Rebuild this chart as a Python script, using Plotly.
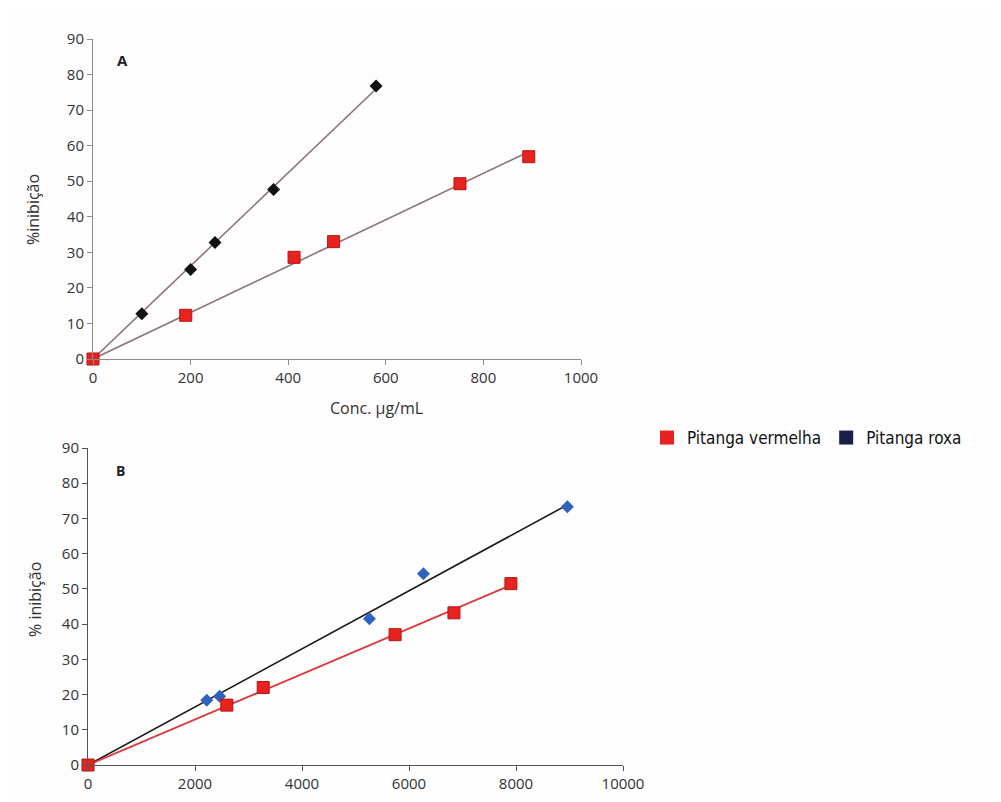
import numpy as np
import plotly.graph_objects as go

# Panel A data (Conc. µg/mL vs % inibição)
a_roxa_x = [0, 100, 200, 250, 370, 580]
a_roxa_y = [0, 12.7, 25.2, 32.8, 47.7, 76.8]
a_verm_x = [0, 190, 412, 493, 752, 893]
a_verm_y = [0, 12.3, 28.6, 33.0, 49.3, 56.9]

# Panel B data
b_roxa_x = [0, 2220, 2460, 5260, 6270, 8960]
b_roxa_y = [0, 18.4, 19.5, 41.5, 54.3, 73.3]
b_verm_x = [0, 2595, 3275, 5740, 6840, 7905]
b_verm_y = [0, 17.0, 22.0, 37.0, 43.2, 51.5]

a_xticks = [0, 200, 400, 600, 800, 1000]
b_xticks = [0, 2000, 4000, 6000, 8000, 10000]
b_xticklabels = ["0", "2000", "4000", "6000", "8000", "10000"]
yticks = [0, 10, 20, 30, 40, 50, 60, 70, 80, 90]

legend_names = ["Pitanga vermelha", "Pitanga roxa"]
legend_colors = ["#e8231f", "#1a1f4a"]

W, H, OFF = 1001, 802, 8


def px(x):
    return (x - OFF) / W


def py(y):
    return 1 - (y - OFF) / H


def fit_line(xs, ys):
    x = np.array(xs, float)
    y = np.array(ys, float)
    k = (x * y).sum() / (x * x).sum()
    xl = np.array([0, x.max()])
    return xl, k * xl


fig = go.Figure()

# Panel A trendlines
for xs, ys in [(a_roxa_x, a_roxa_y), (a_verm_x, a_verm_y)]:
    lx, ly = fit_line(xs, ys)
    fig.add_trace(go.Scatter(x=lx, y=ly, mode="lines", line=dict(color="#8a7674", width=1.6),
                             xaxis="x", yaxis="y", showlegend=False, hoverinfo="skip"))
fig.add_trace(go.Scatter(x=a_roxa_x, y=a_roxa_y, mode="markers", cliponaxis=False,
                         marker=dict(symbol="diamond", size=10, color="#111111"),
                         xaxis="x", yaxis="y", showlegend=False))
fig.add_trace(go.Scatter(x=a_verm_x, y=a_verm_y, mode="markers", cliponaxis=False,
                         marker=dict(symbol="square", size=12, color="#e8231f",
                                     line=dict(color="#b31612", width=1)),
                         xaxis="x", yaxis="y", showlegend=False))

# Panel B trendlines
lx, ly = fit_line(b_roxa_x, b_roxa_y)
fig.add_trace(go.Scatter(x=lx, y=ly, mode="lines", line=dict(color="#1a1a1a", width=1.6),
                         xaxis="x2", yaxis="y2", showlegend=False, hoverinfo="skip"))
lx, ly = fit_line(b_verm_x, b_verm_y)
fig.add_trace(go.Scatter(x=lx, y=ly, mode="lines", line=dict(color="#d9383a", width=1.8),
                         xaxis="x2", yaxis="y2", showlegend=False, hoverinfo="skip"))
fig.add_trace(go.Scatter(x=b_roxa_x, y=b_roxa_y, mode="markers", cliponaxis=False,
                         marker=dict(symbol="diamond", size=10, color="#2f63c0"),
                         xaxis="x2", yaxis="y2", showlegend=False))
fig.add_trace(go.Scatter(x=b_verm_x, y=b_verm_y, mode="markers", cliponaxis=False,
                         marker=dict(symbol="square", size=12, color="#e8231f",
                                     line=dict(color="#b31612", width=1)),
                         xaxis="x2", yaxis="y2", showlegend=False))

# Legend-only traces
for name, col in zip(legend_names, legend_colors):
    fig.add_trace(go.Scatter(x=[None], y=[None], mode="markers", name=name,
                             marker=dict(symbol="square", size=14, color=col),
                             xaxis="x2", yaxis="y2", showlegend=True))

axis_common = dict(showgrid=False, zeroline=False, showline=True, ticks="outside",
                   ticklen=5, tickwidth=1, tickfont=dict(family="Open Sans", size=15, color="#333"))

fig.update_layout(
    width=W, height=H,
    margin=dict(l=0, r=0, t=0, b=0, autoexpand=False),
    paper_bgcolor="#fdfdfd", plot_bgcolor="rgba(0,0,0,0)",
    xaxis=dict(domain=[px(93), px(581)], range=[0, 1000], tickvals=a_xticks,
               linecolor="#8c8c8c", tickcolor="#8c8c8c", anchor="y", **axis_common),
    yaxis=dict(domain=[py(359), py(39)], range=[0, 90], tickvals=yticks,
               linecolor="#8c8c8c", tickcolor="#8c8c8c", anchor="x", **axis_common),
    xaxis2=dict(domain=[px(88), px(623)], range=[0, 10000], tickvals=b_xticks,
                ticktext=b_xticklabels,
                linecolor="#555", tickcolor="#555", anchor="y2", **axis_common),
    yaxis2=dict(domain=[py(765), py(448)], range=[0, 90], tickvals=yticks,
                linecolor="#555", tickcolor="#555", anchor="x2", **axis_common),
    legend=dict(orientation="h", x=px(647), y=py(438), xanchor="left", yanchor="middle",
                font=dict(family="Liberation Sans Narrow, DejaVu Sans Condensed, Open Sans",
                          size=17, color="#111"),
                bgcolor="rgba(0,0,0,0)", itemwidth=30, tracegroupgap=0),
    showlegend=True,
)

ann = dict(xref="paper", yref="paper", showarrow=False, xanchor="center", yanchor="middle")
fig.add_annotation(text="<b>A</b>", x=px(122), y=py(60),
                   font=dict(family="Open Sans", size=15, color="#222"), **ann)
fig.add_annotation(text="<b>B</b>", x=px(120), y=py(470),
                   font=dict(family="Open Sans", size=14, color="#222"), **ann)
fig.add_annotation(text="Conc. µg/mL", x=px(376), y=py(408),
                   font=dict(family="Open Sans", size=16, color="#333"), **ann)
fig.add_annotation(text="%inibição", x=px(33), y=py(210), textangle=-90,
                   font=dict(family="Open Sans", size=16, color="#333"), **ann)
fig.add_annotation(text="% inibição", x=px(35), y=py(600), textangle=-90,
                   font=dict(family="Open Sans", size=16, color="#333"), **ann)

fig.write_html("out.html")
